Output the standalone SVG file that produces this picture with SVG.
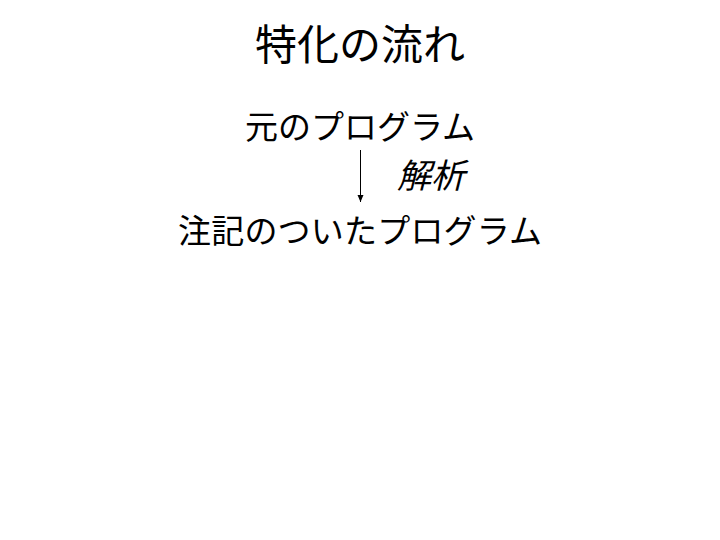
<svg xmlns="http://www.w3.org/2000/svg" width="720" height="540" viewBox="0 0 720 540">
<defs>
<style>
text { font-family: "Noto Sans CJK JP", "Noto Sans CJK SC", sans-serif; fill: #000; text-anchor: middle; }
.title { font-size: 42px; }
.node { font-size: 33px; }
.label { font-size: 34px; font-style: italic; text-anchor: start; }
.conn { stroke: #000; stroke-width: 1; fill: none; }
</style>
<marker id="arrow" markerWidth="8" markerHeight="8" refX="7" refY="4" orient="auto" markerUnits="userSpaceOnUse">
<path d="M0,1 L7,4 L0,7 Z" fill="#000"/>
</marker>
</defs>
<rect width="720" height="540" fill="#fff"/>
<text class="title" x="360" y="60">特化の流れ</text>
<g id="node-original">
<text class="node" x="360" y="139">元のプログラム</text>
</g>
<g id="node-annotated">
<text class="node" x="360" y="243" textLength="364" lengthAdjust="spacing">注記のついたプログラム</text>
</g>
<g id="connectors">
<line class="conn" x1="360.5" y1="150" x2="360.5" y2="202" marker-end="url(#arrow)"/>
<text class="label" x="397" y="188">解析</text>
</g>
</svg>
